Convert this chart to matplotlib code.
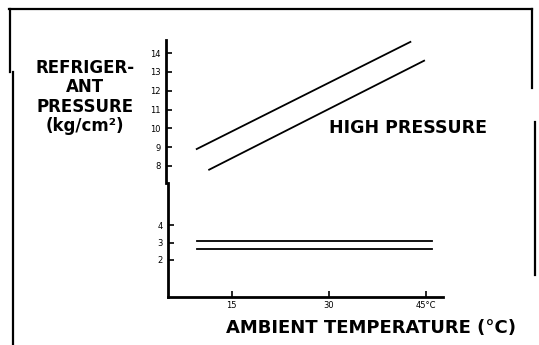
import matplotlib.pyplot as plt
from matplotlib.lines import Line2D

# ambient temperature (deg C) at the ends of each line
hp_upper_t = [9.9, 42.6]
hp_upper_p = [8.9, 14.6]
hp_lower_t = [11.8, 44.7]
hp_lower_p = [7.8, 13.6]
lp_upper_t = [9.6, 45.9]
lp_upper_p = [3.1, 3.1]
lp_lower_t = [9.6, 45.9]
lp_lower_p = [2.6, 2.6]

x_ticks = [15, 30, 45]
x_labels = ['15', '30', '45°C']
hi_ticks = [8, 9, 10, 11, 12, 13, 14]
lo_ticks = [2, 3, 4]

fig = plt.figure(figsize=(5.39, 3.45), dpi=100)
ax_hi = fig.add_axes([0.308, 0.470, 0.514, 0.414])
ax_lo = fig.add_axes([0.312, 0.139, 0.510, 0.331])

for ax in (ax_hi, ax_lo):
    ax.set_xlim(5.2, 47.6)
    ax.patch.set_alpha(0)
    for s in ('top', 'right'):
        ax.spines[s].set_visible(False)
    ax.spines['left'].set_linewidth(2)
    ax.tick_params(axis='y', direction='in', length=4, width=1.2,
                   labelsize=6, pad=4)

ax_hi.spines['bottom'].set_visible(False)
ax_hi.set_xticks([])
ax_hi.set_ylim(7.1, 14.7)
ax_hi.set_yticks(hi_ticks)
ax_hi.plot(hp_upper_t, hp_upper_p, color='black', lw=1.3)
ax_hi.plot(hp_lower_t, hp_lower_p, color='black', lw=1.3)

ax_lo.spines['bottom'].set_linewidth(2)
ax_lo.set_ylim(-0.2, 6.5)
ax_lo.set_yticks(lo_ticks)
ax_lo.set_xticks(x_ticks)
ax_lo.set_xticklabels(x_labels)
ax_lo.tick_params(axis='x', direction='in', length=4, width=1.2,
                  labelsize=6, pad=3)
ax_lo.plot(lp_upper_t, lp_upper_p, color='black', lw=1.3)
ax_lo.plot(lp_lower_t, lp_lower_p, color='black', lw=1.3)

fig.text(0.757, 0.629, 'HIGH PRESSURE', ha='center', va='center',
         fontsize=12.5, fontweight='bold')
fig.text(0.688, 0.049, 'AMBIENT TEMPERATURE (°C)', ha='center', va='center',
         fontsize=13, fontweight='bold')
fig.text(0.158, 0.719, 'REFRIGER-\nANT\nPRESSURE\n(kg/cm²)', ha='center',
         va='center', fontsize=12, fontweight='bold', linespacing=1.1)

# frame around the figure
frame = [
    ([9 / 539, 532 / 539], [1 - 9 / 345, 1 - 9 / 345]),
    ([10 / 539, 10 / 539], [1 - 9 / 345, 1 - 72 / 345]),
    ([13 / 539, 13 / 539], [1 - 72 / 345, 0.0]),
    ([532 / 539, 532 / 539], [1 - 9 / 345, 1 - 88 / 345]),
    ([535 / 539, 535 / 539], [1 - 122 / 345, 1 - 275 / 345]),
]
for xs, ys in frame:
    fig.add_artist(Line2D(xs, ys, color='black', lw=1.6, transform=fig.transFigure))

fig.savefig('out.png', dpi=100)
